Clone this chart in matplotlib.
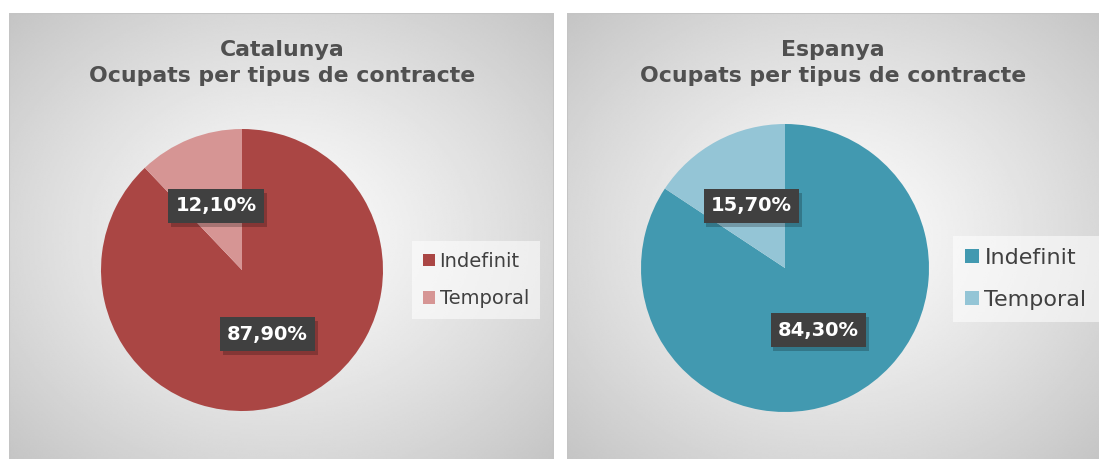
import numpy as np
import matplotlib
import matplotlib.pyplot as plt
from matplotlib.patches import Patch, Rectangle
import matplotlib.patheffects as pe

matplotlib.use('Agg')

W, H = 1099, 459

categories = ['Indefinit', 'Temporal']
regions = ['Catalunya', 'Espanya']
subtitle = 'Ocupats per tipus de contracte'
values_cat = [87.9, 12.1]
values_esp = [84.3, 15.7]

colors_cat = ['#AA4644', '#D69594']
colors_esp = ['#4299B0', '#94C5D6']


def px_axes(fig, x0, y0, x1, y1):
    # pixel box (top-left origin) -> figure axes
    return fig.add_axes([x0 / W, (H - y1) / H, (x1 - x0) / W, (y1 - y0) / H])


def panel_bg(fig, x0, y0, x1, y1):
    ax = px_axes(fig, x0, y0, x1, y1)
    nx, ny = 300, 250
    gx, gy = np.meshgrid(np.linspace(-1, 1, nx), np.linspace(-1, 1, ny))
    r = np.sqrt(gx ** 2 + gy ** 2) / np.sqrt(2)
    v = 0.99 - 0.22 * np.clip(r, 0, 1) ** 1.2
    ax.imshow(v, cmap='gray', vmin=0, vmax=1, extent=[0, 1, 0, 1],
              aspect='auto', interpolation='bilinear')
    ax.add_patch(Rectangle((0, 0), 1, 1, transform=ax.transAxes, fill=False,
                           ec='#c4c4c4', lw=1.5))
    ax.set_xlim(0, 1)
    ax.set_ylim(0, 1)
    ax.axis('off')
    return ax


def draw_pie(fig, cx, cy, rad, values, colors, pctdist):
    ax = px_axes(fig, cx - rad, cy - rad, cx + rad, cy + rad)
    wedges, texts, autotexts = ax.pie(
        values, colors=colors, startangle=90, counterclock=False,
        autopct=lambda p: ('%.2f%%' % p).replace('.', ','),
        pctdistance=pctdist, radius=1,
        wedgeprops=dict(linewidth=0),
        textprops=dict(color='white', fontsize=14, fontweight='bold'))
    for t in autotexts:
        t.set_bbox(dict(boxstyle='square,pad=0.38', fc='#404040', ec='none'))
        t.get_bbox_patch().set_path_effects([
            pe.SimplePatchShadow(offset=(2, -3), shadow_rgbFace='black', alpha=0.22),
            pe.Normal()])
    ax.set_xlim(-1, 1)
    ax.set_ylim(-1, 1)
    ax.axis('off')
    return ax


def add_legend(colors, center, fs, spacing):
    leg = fig.legend(handles=[Patch(fc=c, ec='none') for c in colors], labels=categories,
                     loc='center', bbox_to_anchor=(center[0] / W, 1 - center[1] / H),
                     fontsize=fs, frameon=True, fancybox=False, handlelength=0.6,
                     handleheight=0.6, handletextpad=0.25, labelspacing=spacing,
                     borderpad=0.55, labelcolor='#404040')
    leg.get_frame().set_facecolor('white')
    leg.get_frame().set_alpha(0.55)
    leg.get_frame().set_edgecolor('none')
    return leg


fig = plt.figure(figsize=(W / 100, H / 100), dpi=100)

# left panel
panel_bg(fig, 9, 13, 554, 462)
fig.text(282 / W, 1 - 50 / H, regions[0], ha='center', va='center',
         fontsize=15.8, fontweight='bold', color='#505050')
fig.text(282 / W, 1 - 76 / H, subtitle, ha='center', va='center',
         fontsize=15.8, fontweight='bold', color='#505050')
draw_pie(fig, 242, 270, 141, values_cat, colors_cat, 0.49)
add_legend(colors_cat, (476, 280), 14, 0.95)

# right panel
panel_bg(fig, 567, 13, 1102, 462)
fig.text(833 / W, 1 - 50 / H, regions[1], ha='center', va='center',
         fontsize=15.8, fontweight='bold', color='#505050')
fig.text(833 / W, 1 - 76 / H, subtitle, ha='center', va='center',
         fontsize=15.8, fontweight='bold', color='#505050')
draw_pie(fig, 785, 268, 144, values_esp, colors_esp, 0.49)
add_legend(colors_esp, (1026, 279), 16, 1.0)

fig.savefig('out.png', dpi=100, facecolor='white')
